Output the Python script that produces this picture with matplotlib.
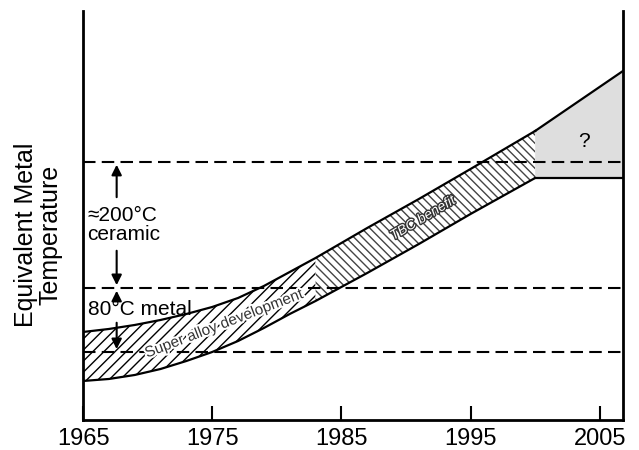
import numpy as np
import matplotlib.pyplot as plt
import matplotlib.patheffects as pe

plt.rcParams['font.family'] = ['Liberation Sans', 'DejaVu Sans']

# band edges (arbitrary temperature units)
years = [1965, 1967, 1969, 1971, 1973, 1975, 1977, 1979, 1981, 1983, 1987, 1991, 1995, 2000]
upper = [88, 91, 95, 100, 106, 113, 122, 134, 148, 162, 192, 221, 251, 289]
lower = [39, 41, 45, 51, 59, 68, 79, 92, 106, 119, 147, 176, 206, 242]
split = 9  # 1983: super alloy -> TBC

# the "?" region
q_years = [2000, 2006.8]
q_upper = [289, 349]
q_lower = [242, 242]

# dashed reference levels
levels = [258, 132, 68]

xticks = [1965, 1975, 1985, 1995, 2005]

fig = plt.figure(figsize=(6.39, 4.5), dpi=100)
ax = fig.add_axes([0.130, 0.0667, 0.845, 0.909])

x = np.array(years)
up = np.array(upper)
lo = np.array(lower)

plt.rcParams['hatch.linewidth'] = 1.0
ax.fill_between(x[:split + 1], lo[:split + 1], up[:split + 1], facecolor='white',
                edgecolor='black', hatch='///', linewidth=0)
ax.fill_between(x[split:], lo[split:], up[split:], facecolor='white',
                edgecolor='#444444', hatch='\\\\\\\\', linewidth=0)
ax.fill_between(q_years, q_lower, q_upper, facecolor='#dedede', linewidth=0)

ax.plot(x, up, color='black', lw=1.6)
ax.plot(x, lo, color='black', lw=1.6)
ax.plot(q_years, q_upper, color='black', lw=1.6)
ax.plot(q_years, q_lower, color='black', lw=1.6)

for lv in levels:
    ax.plot([1965, 2006.8], [lv, lv], color='black', lw=1.5, dashes=(6, 3))

# arrows
ax_x = 1967.6
arrowprops = dict(arrowstyle='-|>', color='black', lw=1.5, mutation_scale=15)
ax.annotate('', xy=(ax_x, 258), xytext=(ax_x, 220), arrowprops=arrowprops)
ax.annotate('', xy=(ax_x, 132), xytext=(ax_x, 172), arrowprops=arrowprops)
ax.annotate('', xy=(ax_x, 132), xytext=(ax_x, 120), arrowprops=arrowprops)
ax.annotate('', xy=(ax_x, 68), xytext=(ax_x, 100), arrowprops=arrowprops)

ax.text(1965.35, 195, '\u2248200\u00b0C\nceramic', fontsize=15, ha='left', va='center',
        linespacing=1.0)
ax.text(1965.35, 110, '80\u00b0C metal', fontsize=15, ha='left', va='center')

ax.text(1975.9, 96, 'Super alloy development', fontsize=11, color='#333333',
        rotation=21, ha='center', va='center',
        path_effects=[pe.withStroke(linewidth=3, foreground='white')])
ax.text(1991.3, 202, 'TBC benefit', fontsize=10, color='white', style='italic',
        rotation=31, ha='center', va='center',
        path_effects=[pe.withStroke(linewidth=2, foreground='#333333')])
ax.text(2003.8, 278, '?', fontsize=15, ha='center', va='center')

ax.set_xlim(1965, 2006.8)
ax.set_ylim(0, 409)
ax.set_xticks(xticks)
ax.set_yticks([])
ax.tick_params(axis='x', direction='in', length=10, width=1.5, labelsize=17, pad=6)
for s in ['left', 'bottom', 'right']:
    ax.spines[s].set_linewidth(2)
ax.spines['top'].set_visible(False)

fig.text(0.06, 0.478, 'Equivalent Metal\nTemperature', rotation=90, fontsize=18,
         ha='center', va='center', multialignment='center', linespacing=1.05)

fig.savefig('out.png', dpi=100)
